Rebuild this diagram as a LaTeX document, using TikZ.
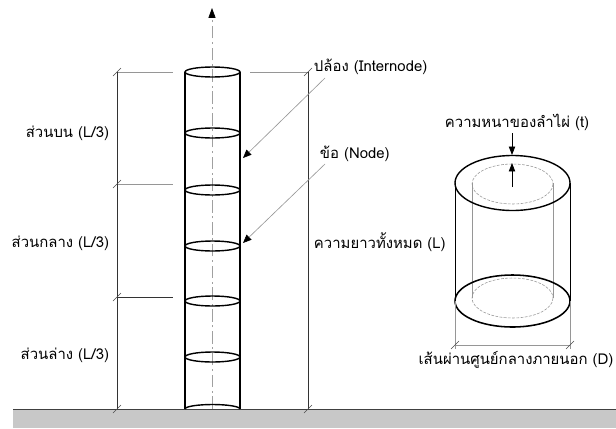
\documentclass[tikz,border=0pt]{standalone}
\usepackage{fontspec}
\newfontfamily\thaifont[Script=Thai]{Loma}
\usepackage{tikz}
\usetikzlibrary{arrows.meta}
\definecolor{groundgray}{RGB}{200,200,200}
\definecolor{linegray}{RGB}{150,150,150}
\definecolor{axisgray}{RGB}{160,160,160}

\begin{document}
\begin{tikzpicture}[x=0.025cm,y=-0.025cm,font=\thaifont\fontsize{10.6}{13}\selectfont,
    dimline/.style={black!80,line width=0.45pt},
    extline/.style={linegray,line width=0.4pt},
    leader/.style={linegray,line width=0.45pt,-{Triangle[black,length=6pt,width=5pt]}},
    tube/.style={black,line width=1pt},
    tick/.style={black!70,line width=0.4pt}]
  \useasboundingbox (0,0) rectangle (616,428);
  % ground
  \fill[groundgray] (13,409) rectangle (616,428);
  \draw[black!75,line width=0.6pt] (13,409) -- (616,409);
  % centre axis of the culm
  \coordinate (axbot) at (212,409);
  \coordinate (axtop) at (212,8);
  \draw[axisgray,line width=0.5pt,dash pattern=on 9pt off 2.5pt on 1.5pt off 2.5pt,
        -{Triangle[black,length=7pt,width=5pt]}] (axbot) -- (axtop);
  % culm with node rings
  \draw[tube] (185,72) -- (185,409) (240,72) -- (240,409);
  \draw[tube] (212.5,72) ellipse [x radius=27.5,y radius=5];
  \foreach \yy in {133,190,246,301,357}
    \draw[tube] (212.5,\yy) ellipse [x radius=27.5,y radius=5];
  \draw[tube] (240,409) arc[start angle=0,end angle=-180,x radius=27.5,y radius=4.5];
  % extension lines
  \draw[extline] (117,72) -- (173,72) (250,72) -- (308,72);
  \draw[extline] (117,184) -- (173,184);
  \draw[dimline] (117,297) -- (173,297);
  % dimension lines with ticks
  \draw[dimline] (117,72) -- (117,409);
  \draw[dimline] (308,72) -- (308,409);
  \foreach \px/\py in {117/72,117/184,117/297,117/409,308/72,308/409}
    \draw[tick] (\px-4,\py+4) -- (\px+4,\py-4);
  % labels of the three parts
  \node[anchor=east] (upper) at (114,133) {ส่วนบน (L/3)};
  \node[anchor=east] (middle) at (114,243) {ส่วนกลาง (L/3)};
  \node[anchor=east] (lower) at (114,355) {ส่วนล่าง (L/3)};
  \node[anchor=west] (total) at (309,242) {ความยาวทั้งหมด (L)};
  \node[anchor=west] (internode) at (309,67) {ปล้อง (Internode)};
  \node[anchor=west] (nodelbl) at (315,154) {ข้อ (Node)};
  % leaders to the culm
  \coordinate (inA) at (325,78);
  \coordinate (inB) at (243,158);
  \coordinate (ndA) at (325,164);
  \coordinate (ndB) at (243,243);
  \draw[leader] (inA) -- (inB);
  \draw[leader] (ndA) -- (ndB);
  % cross section: hollow cylinder
  \draw[black,line width=0.5pt] (455,183) -- (455,301) (570,183) -- (570,301);
  \draw[linegray,line width=0.4pt] (472,183) -- (472,298) (553,183) -- (553,298);
  \draw[linegray,line width=0.4pt,dash pattern=on 2pt off 1pt] (512.5,184) ellipse [x radius=40.5,y radius=20];
  \draw[linegray,line width=0.4pt,dash pattern=on 2pt off 1pt] (512.5,298) ellipse [x radius=40.5,y radius=20];
  \draw[black,line width=1pt] (512.5,183) ellipse [x radius=57.5,y radius=27.5];
  \draw[black,line width=1.1pt] (512.5,301) ellipse [x radius=57.5,y radius=26];
  % wall thickness
  \node (thick) at (517,122) {ความหนาของลำไผ่ (t)};
  \coordinate (tA) at (512,133);
  \coordinate (tB) at (512,155);
  \coordinate (tC) at (512,187);
  \coordinate (tD) at (512,163);
  \draw[black,line width=0.6pt,-{Triangle[length=6pt,width=4.5pt]}] (tA) -- (tB);
  \draw[black,line width=0.6pt,-{Triangle[length=6pt,width=4.5pt]}] (tC) -- (tD);
  % outside diameter
  \draw[extline] (455,301) -- (455,349) (570,301) -- (570,349);
  \coordinate (dA) at (455,345);
  \coordinate (dB) at (570,345);
  \draw[extline] (dA) -- (dB);
  \draw[tick] (451,349) -- (459,341) (566,349) -- (574,341);
  \node[anchor=east,inner sep=1pt] (diam) at (615,360) {เส้นผ่านศูนย์กลางภายนอก (D)};
\end{tikzpicture}
\end{document}
